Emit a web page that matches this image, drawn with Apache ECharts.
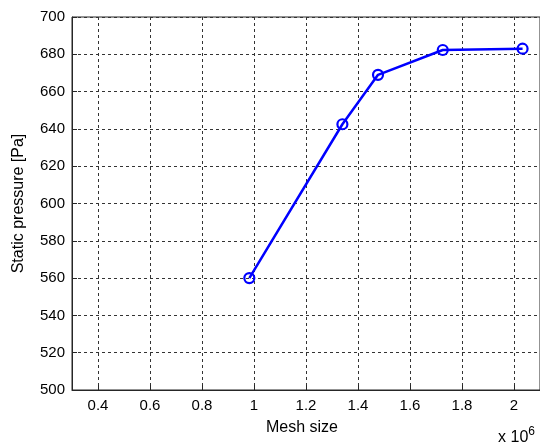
<!DOCTYPE html>
<html><head><meta charset="utf-8">
<script src="https://cdn.jsdelivr.net/npm/echarts@6/dist/echarts.min.js"></script>
<style>html,body{margin:0;padding:0;background:#fff}#c{width:540px;height:448px}</style>
</head><body><div id="c"></div>
<script>
const meshSize = [0.982, 1.340, 1.477, 1.726, 2.033];
const pressure = [560, 642.5, 669, 682.3, 683];
const xTicks = [0.4, 0.6, 0.8, 1.0, 1.2, 1.4, 1.6, 1.8, 2.0];
const yTicks = [500, 520, 540, 560, 580, 600, 620, 640, 660, 680, 700];
const xTitle = 'Mesh size';
const yTitle = 'Static pressure [Pa]';

const font = 'Liberation Sans, Arial, Helvetica, sans-serif';
const chart = echarts.init(document.getElementById('c'), null, {renderer:'canvas'});
const fmtX = v => { const r = Math.round(v*10)/10; return (r % 1 === 0) ? String(r) : r.toFixed(1); };
chart.setOption({
  animation:false,
  backgroundColor:'#fff',
  grid:{left:72, top:17, width:469, height:373, show:true, borderColor:'#262626', borderWidth:1, containLabel:false},
  xAxis:{
    type:'value', min:0.3, max:2.1,
    axisLine:{show:true, lineStyle:{color:'#262626', width:1}},
    axisTick:{show:true, inside:true, length:5, customValues:xTicks, lineStyle:{color:'#262626'}},
    axisLabel:{customValues:xTicks, formatter:fmtX, color:'#000', fontFamily:font, fontSize:15, margin:8},
    splitLine:{show:true, lineStyle:{color:'#333', type:[3,3], width:1}},
    name:xTitle, nameLocation:'middle', nameGap:30,
    nameTextStyle:{color:'#000', fontFamily:font, fontSize:16, padding:[0,8,0,0]}
  },
  yAxis:{
    type:'value', min:500, max:700, interval:20,
    axisLine:{show:true, lineStyle:{color:'#262626', width:1}},
    axisTick:{show:true, inside:true, length:5, lineStyle:{color:'#262626'}},
    axisLabel:{color:'#000', fontFamily:font, fontSize:15, margin:7},
    splitLine:{show:true, lineStyle:{color:'#333', type:[3,3], width:1}},
    name:yTitle, nameLocation:'middle', nameGap:45, nameRotate:90,
    nameTextStyle:{color:'#000', fontFamily:font, fontSize:16}
  },
  graphic:[{
    type:'text', right:5, top:426,
    style:{text:'x 10{s|6}', fill:'#000', font:'16px '+font,
      rich:{s:{fontSize:12, fontFamily:font, verticalAlign:'top', padding:[0,0,12,0], fill:'#000'}}}
  }],
  series:[{
    type:'line', data:meshSize.map((x,i)=>[x, pressure[i]]),
    symbol:'circle', symbolSize:10, showSymbol:true,
    lineStyle:{color:'#0000ff', width:2.5},
    itemStyle:{color:'rgba(0,0,0,0)', borderColor:'#0000ff', borderWidth:2.2},
    emphasis:{disabled:true}
  }]
});
</script></body></html>
